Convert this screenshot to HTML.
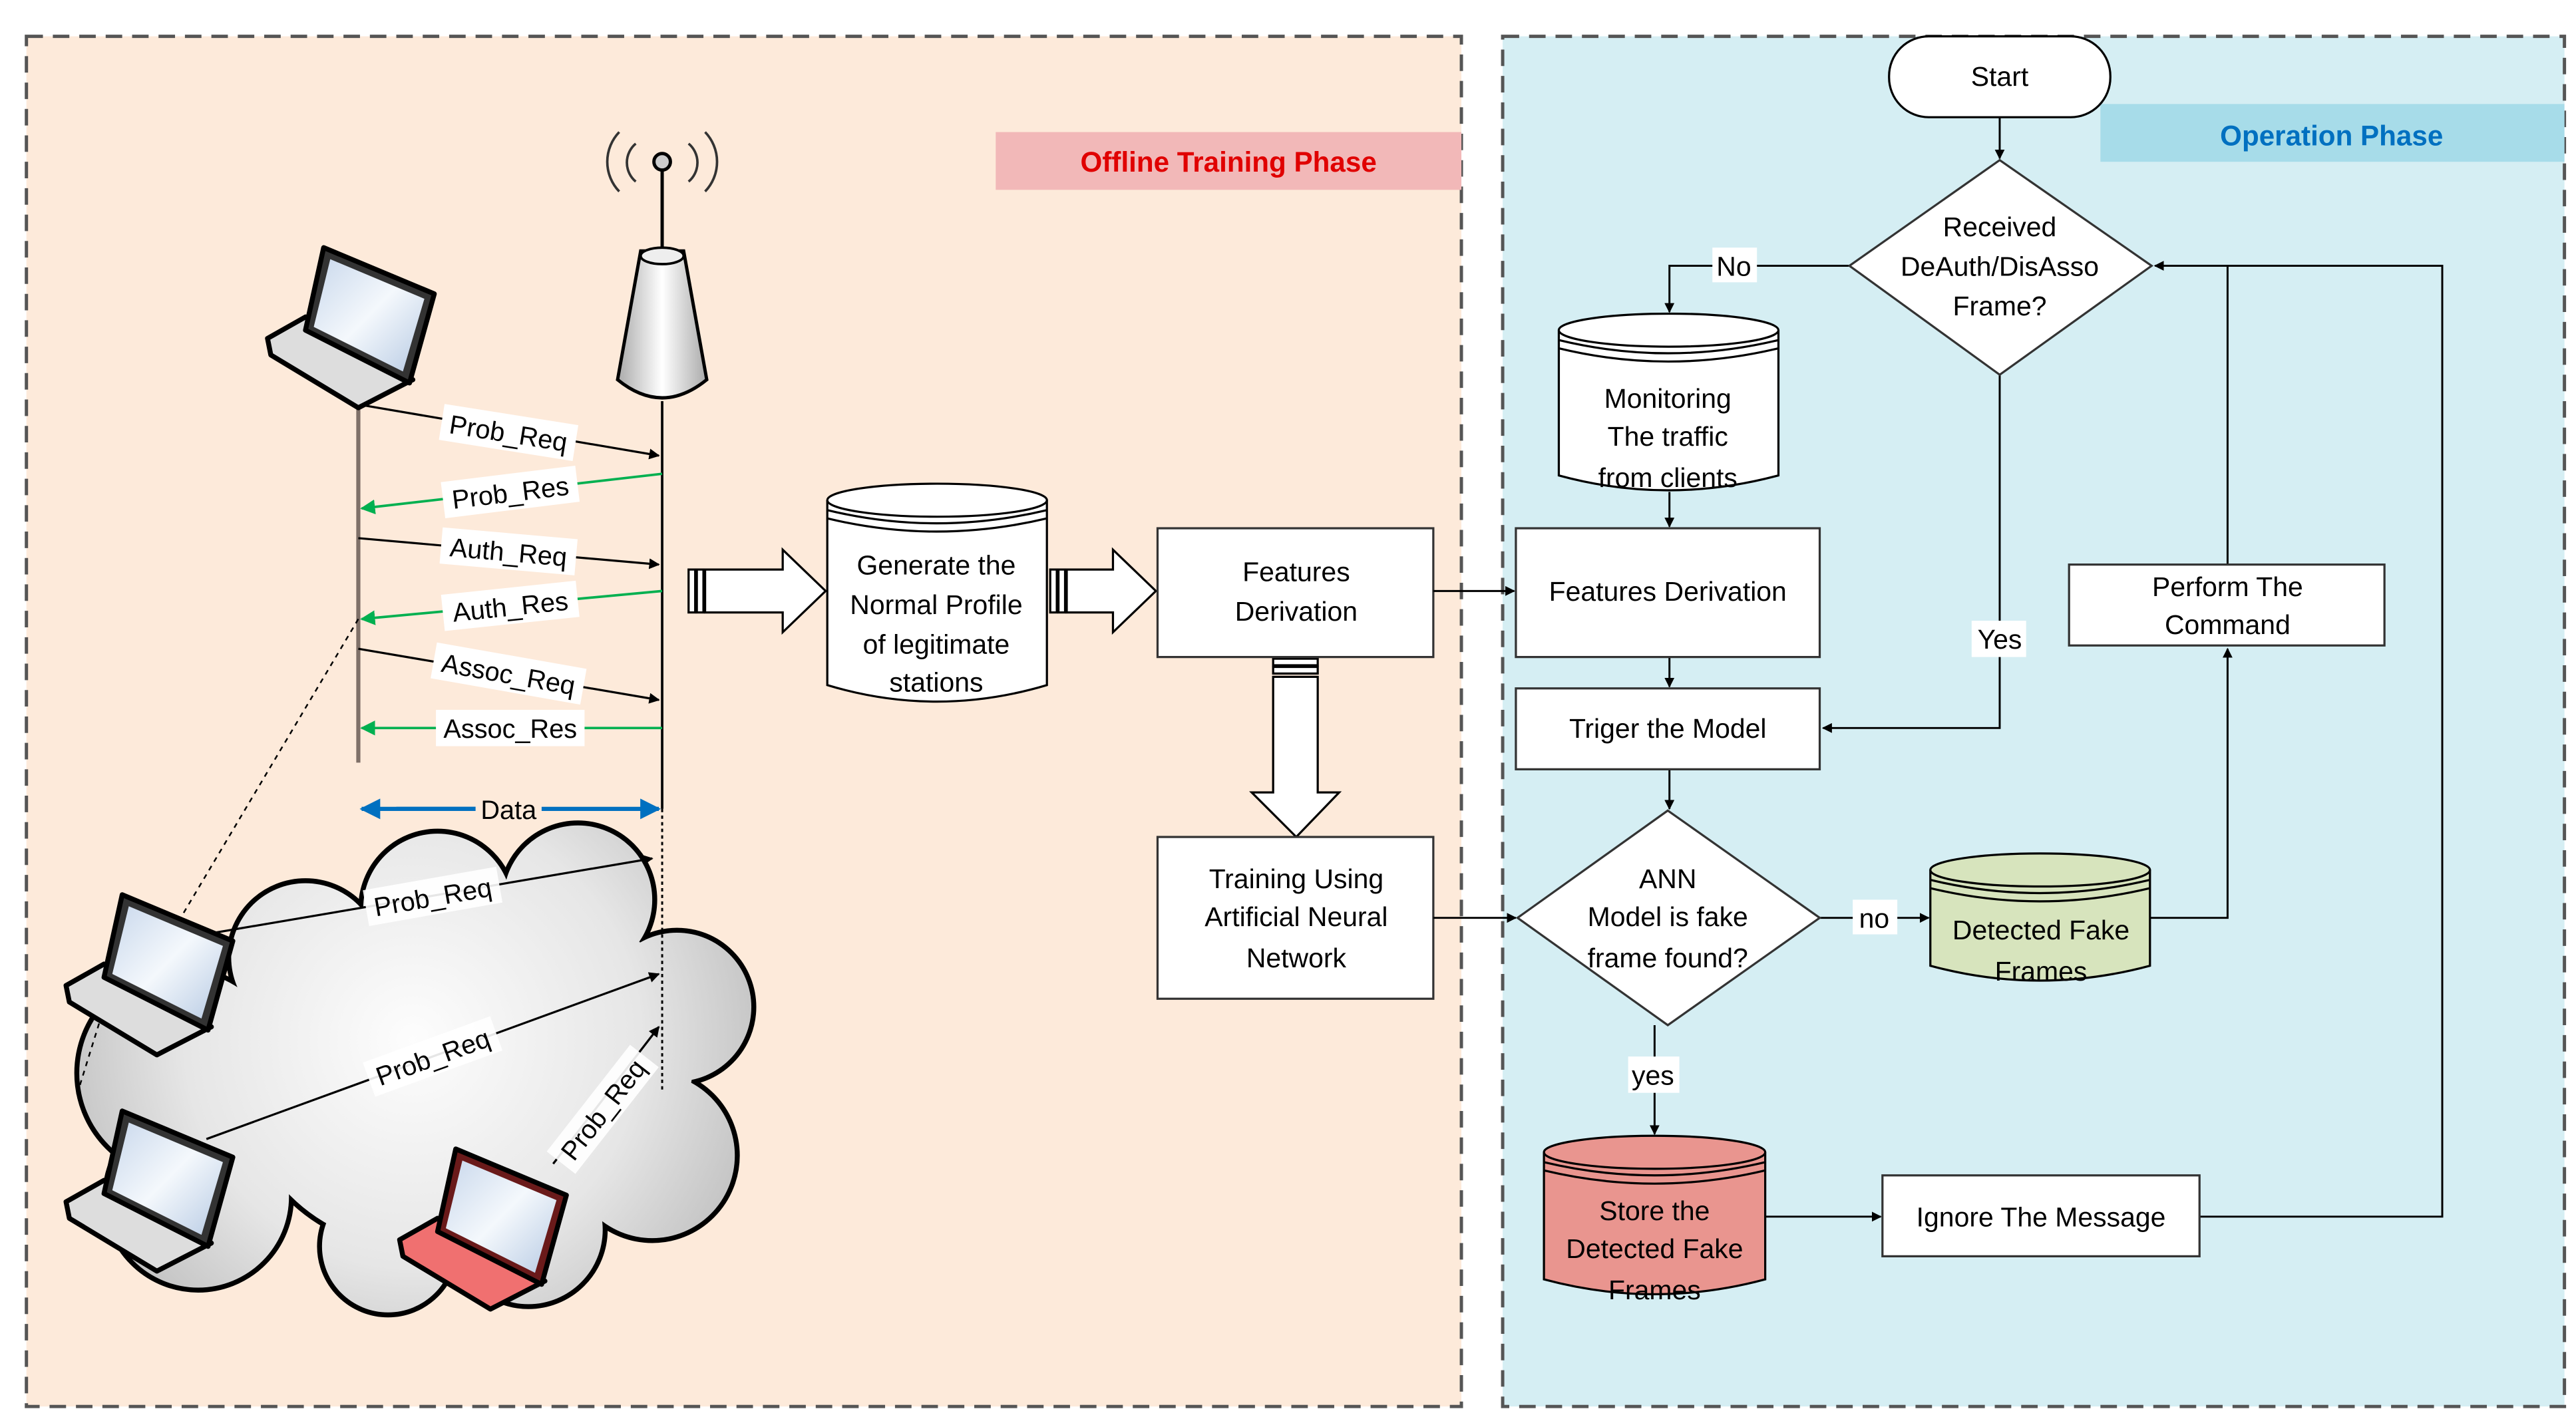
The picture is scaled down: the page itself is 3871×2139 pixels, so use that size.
<!DOCTYPE html>
<html><head><meta charset="utf-8"><style>html,body{margin:0;padding:0;background:#fff}svg{display:block}</style></head>
<body>
<svg width="3871" height="2139" viewBox="0 0 1560 862" preserveAspectRatio="none" xmlns="http://www.w3.org/2000/svg" font-family="Liberation Sans, sans-serif">
<defs>
<marker id="ab" viewBox="0 0 10 10" refX="9" refY="5" markerWidth="5" markerHeight="5" orient="auto"><path d="M0,0L10,5L0,10z" fill="#000"/></marker>
<marker id="ag" viewBox="0 0 10 10" refX="9" refY="5" markerWidth="6" markerHeight="6" orient="auto"><path d="M0,0L10,5L0,10z" fill="#00b050"/></marker>
<marker id="al" viewBox="0 0 10 10" refX="9" refY="5" markerWidth="5" markerHeight="5" orient="auto"><path d="M0,0L10,5L0,10z" fill="#0070c0"/></marker>
<radialGradient id="cg" gradientUnits="userSpaceOnUse" cx="250" cy="630" r="230"><stop offset="0" stop-color="#fdfdfd"/><stop offset="0.6" stop-color="#e6e6e6"/><stop offset="1" stop-color="#bdbdbd"/></radialGradient>
<linearGradient id="sg" x1="0" y1="0" x2="1" y2="1"><stop offset="0" stop-color="#c9d8ec"/><stop offset="0.5" stop-color="#f4f8fc"/><stop offset="1" stop-color="#b8cbe4"/></linearGradient>
<linearGradient id="tg" x1="0" x2="1"><stop offset="0" stop-color="#aaa"/><stop offset="0.5" stop-color="#fff"/><stop offset="1" stop-color="#aaa"/></linearGradient>
<g id="lap">
<polygon points="0,55 23,42 88,80 55,97 2,65" fill="#ddd" stroke="#000" stroke-width="3" stroke-linejoin="round"/>
<polygon points="34,0 101,28 86,82 23,50" fill="#333" stroke="#000" stroke-width="3" stroke-linejoin="round"/>
<polygon points="38,7 95,31 82,75 28,48" fill="url(#sg)"/>
</g>
<g id="lapr">
<polygon points="0,55 23,42 88,80 55,97 2,65" fill="#f07070" stroke="#000" stroke-width="3" stroke-linejoin="round"/>
<polygon points="34,0 101,28 86,82 23,50" fill="#6a1a1a" stroke="#000" stroke-width="3" stroke-linejoin="round"/>
<polygon points="38,7 95,31 82,75 28,48" fill="url(#sg)"/>
</g>
</defs>
<rect width="1560" height="862" fill="#fff"/>
<rect x="16" y="22" width="869" height="830" fill="#fdeada" stroke="#555" stroke-width="2" stroke-dasharray="10,6"/>
<rect x="910" y="22" width="643" height="830" fill="#d5eef3" stroke="#555" stroke-width="2" stroke-dasharray="10,6"/>
<rect x="603" y="80" width="282" height="35" fill="#f2b8b8"/>
<text x="744" y="104" font-size="17" font-weight="bold" fill="#e00000" text-anchor="middle">Offline Training Phase</text>
<rect x="1272" y="63" width="281" height="35" fill="#a7dce9"/>
<text x="1412" y="88" font-size="17" font-weight="bold" fill="#0070c0" text-anchor="middle">Operation Phase</text>

<!-- cloud -->
<g stroke="#000" stroke-width="6" fill="#000">
<circle cx="110" cy="650" r="62"/><circle cx="185" cy="580" r="45"/><circle cx="265" cy="550" r="45"/><circle cx="350" cy="545" r="45"/><circle cx="410" cy="610" r="45"/><circle cx="395" cy="700" r="50"/><circle cx="320" cy="745" r="45"/><circle cx="235" cy="755" r="40"/><circle cx="120" cy="725" r="55"/><circle cx="250" cy="650" r="105"/><circle cx="330" cy="640" r="90"/>
</g>
<g fill="url(#cg)">
<circle cx="110" cy="650" r="62"/><circle cx="185" cy="580" r="45"/><circle cx="265" cy="550" r="45"/><circle cx="350" cy="545" r="45"/><circle cx="410" cy="610" r="45"/><circle cx="395" cy="700" r="50"/><circle cx="320" cy="745" r="45"/><circle cx="235" cy="755" r="40"/><circle cx="120" cy="725" r="55"/><circle cx="250" cy="650" r="105"/><circle cx="330" cy="640" r="90"/>
</g>

<!-- antenna -->
<path d="M375,80 A26,26 0 0 0 375,116 M385,87 A15,15 0 0 0 385,110 M427,80 A26,26 0 0 1 427,116 M417,87 A15,15 0 0 1 417,110" fill="none" stroke="#333" stroke-width="1.5"/>
<line x1="401" y1="100" x2="401" y2="155" stroke="#000" stroke-width="2"/>
<circle cx="401" cy="98" r="5" fill="#ccc" stroke="#000" stroke-width="2"/>
<path d="M388,152 L414,152 L428,230 Q401,252 374,230 Z" fill="url(#tg)" stroke="#000" stroke-width="2"/>
<ellipse cx="401" cy="155" rx="13" ry="5" fill="#eee" stroke="#000" stroke-width="1.5"/>

<line x1="217" y1="245" x2="217" y2="462" stroke="#7f7068" stroke-width="2.5"/>
<line x1="401" y1="243" x2="401" y2="490" stroke="#000" stroke-width="1.5"/>
<line x1="401" y1="490" x2="401" y2="660" stroke="#000" stroke-width="1.2" stroke-dasharray="2,2"/>
<line x1="217" y1="375" x2="110" y2="555" stroke="#000" stroke-width="1" stroke-dasharray="3,3"/>
<line x1="60" y1="620" x2="46" y2="665" stroke="#000" stroke-width="1" stroke-dasharray="3,3"/>

<g font-size="16">
<line x1="217" y1="245" x2="399" y2="276" stroke="#000" stroke-width="1.3" marker-end="url(#ab)"/>
<g transform="translate(308,262) rotate(9)"><rect x="-41" y="-11" width="82" height="22" fill="#fff"/><text y="6" text-anchor="middle">Prob_Req</text></g>
<line x1="401" y1="287" x2="219" y2="308" stroke="#00b050" stroke-width="1.5" marker-end="url(#ag)"/>
<g transform="translate(309,298) rotate(-7)"><rect x="-41" y="-11" width="82" height="22" fill="#fff"/><text y="6" text-anchor="middle">Prob_Res</text></g>
<line x1="217" y1="326" x2="399" y2="342" stroke="#000" stroke-width="1.3" marker-end="url(#ab)"/>
<g transform="translate(308,334) rotate(5)"><rect x="-41" y="-11" width="82" height="22" fill="#fff"/><text y="6" text-anchor="middle">Auth_Req</text></g>
<line x1="401" y1="358" x2="219" y2="375" stroke="#00b050" stroke-width="1.5" marker-end="url(#ag)"/>
<g transform="translate(309,367) rotate(-6)"><rect x="-41" y="-11" width="82" height="22" fill="#fff"/><text y="6" text-anchor="middle">Auth_Res</text></g>
<line x1="217" y1="393" x2="399" y2="424" stroke="#000" stroke-width="1.3" marker-end="url(#ab)"/>
<g transform="translate(308,408) rotate(10)"><rect x="-46" y="-11" width="92" height="22" fill="#fff"/><text y="6" text-anchor="middle">Assoc_Req</text></g>
<line x1="401" y1="441" x2="219" y2="441" stroke="#00b050" stroke-width="1.5" marker-end="url(#ag)"/>
<rect x="264" y="430" width="90" height="22" fill="#fff"/><text x="309" y="447" text-anchor="middle">Assoc_Res</text>
<line x1="240" y1="490" x2="399" y2="490" stroke="#0070c0" stroke-width="2.5" marker-end="url(#al)"/>
<line x1="300" y1="490" x2="219" y2="490" stroke="#0070c0" stroke-width="2.5" marker-end="url(#al)"/>
<rect x="288" y="480" width="40" height="20" fill="#fdeada"/><text x="308" y="496" text-anchor="middle">Data</text>
<line x1="130" y1="565" x2="395" y2="520" stroke="#000" stroke-width="1.3" marker-end="url(#ab)"/>
<g transform="translate(262,543) rotate(-10)"><rect x="-41" y="-11" width="82" height="22" fill="#fff" opacity="0.9"/><text y="6" text-anchor="middle">Prob_Req</text></g>
<line x1="125" y1="690" x2="399" y2="590" stroke="#000" stroke-width="1.3" marker-end="url(#ab)"/>
<g transform="translate(262,640) rotate(-20)"><rect x="-41" y="-11" width="82" height="22" fill="#fff" opacity="0.9"/><text y="6" text-anchor="middle">Prob_Req</text></g>
<line x1="335" y1="705" x2="399" y2="622" stroke="#000" stroke-width="1.3" marker-end="url(#ab)"/>
<g transform="translate(365,672) rotate(-52)"><rect x="-41" y="-11" width="82" height="22" fill="#fff" opacity="0.9"/><text y="6" text-anchor="middle">Prob_Req</text></g>
</g>

<use href="#lap" transform="translate(162,150)"/>
<use href="#lap" transform="translate(40,542)"/>
<use href="#lap" transform="translate(40,673)"/>
<use href="#lapr" transform="translate(242,696)"/>

<g fill="#fff" stroke="#000" stroke-width="1.3">
<path d="M427,345 L474,345 L474,333 L500,358 L474,383 L474,371 L427,371 Z"/>
<rect x="417" y="345" width="4" height="26"/><rect x="422" y="345" width="4" height="26"/>
<path d="M646,345 L674,345 L674,333 L700,358 L674,383 L674,371 L646,371 Z"/>
<rect x="636" y="345" width="4" height="26"/><rect x="641" y="345" width="4" height="26"/>
<path d="M771,410 L771,480 L758,480 L785,507 L811,480 L798,480 L798,410 Z"/>
<rect x="771" y="399" width="27" height="4"/><rect x="771" y="404" width="27" height="4"/>
</g>

<g stroke="#000" stroke-width="1.3">
<path d="M501,303 L501,415 Q567,435 634,415 L634,303" fill="#fff"/>
<ellipse cx="567.5" cy="303" rx="66.5" ry="10" fill="#fff"/>
<path d="M501,309 Q567,325 634,309 M501,314 Q567,330 634,314" fill="none"/>
</g>
<g font-size="16.5" text-anchor="middle">
<text x="567" y="348">Generate the</text><text x="567" y="372">Normal Profile</text><text x="567" y="396">of legitimate</text><text x="567" y="419">stations</text>
</g>

<rect x="701" y="320" width="167" height="78" fill="#fff" stroke="#333" stroke-width="1.3"/>
<text x="785" y="352" font-size="16.5" text-anchor="middle">Features</text><text x="785" y="376" font-size="16.5" text-anchor="middle">Derivation</text>
<rect x="701" y="507" width="167" height="98" fill="#fff" stroke="#333" stroke-width="1.3"/>
<g font-size="16.5" text-anchor="middle"><text x="785" y="538">Training Using</text><text x="785" y="561">Artificial Neural</text><text x="785" y="586">Network</text></g>
<line x1="868" y1="358" x2="917" y2="358" stroke="#000" stroke-width="1.2" marker-end="url(#ab)"/>
<line x1="868" y1="556" x2="918" y2="556" stroke="#000" stroke-width="1.2" marker-end="url(#ab)"/>

<g stroke="#000" stroke-width="1.2" fill="none">
<line x1="1211" y1="71" x2="1211" y2="96" marker-end="url(#ab)"/>
<polyline points="1120,161 1011,161 1011,189" marker-end="url(#ab)"/>
<line x1="1011" y1="298" x2="1011" y2="319" marker-end="url(#ab)"/>
<line x1="1011" y1="398" x2="1011" y2="416" marker-end="url(#ab)"/>
<line x1="1011" y1="466" x2="1011" y2="490" marker-end="url(#ab)"/>
<polyline points="1211,227 1211,441 1104,441" marker-end="url(#ab)"/>
<line x1="1102" y1="556" x2="1168" y2="556" marker-end="url(#ab)"/>
<polyline points="1302,556 1349,556 1349,393" marker-end="url(#ab)"/>
<polyline points="1349,342 1349,161"/>
<polyline points="1332,737 1479,737 1479,161 1305,161" marker-end="url(#ab)"/>
<line x1="1002" y1="621" x2="1002" y2="687" marker-end="url(#ab)"/>
<line x1="1069" y1="737" x2="1139" y2="737" marker-end="url(#ab)"/>
</g>
<rect x="1144" y="22" width="134" height="49" rx="24" fill="#fff" stroke="#000" stroke-width="1.3"/>
<text x="1211" y="52" font-size="16.5" text-anchor="middle">Start</text>
<polygon points="1211,97 1303,161 1211,227 1120,161" fill="#fff" stroke="#333" stroke-width="1.3"/>
<g font-size="16.5" text-anchor="middle"><text x="1211" y="143">Received</text><text x="1211" y="167">DeAuth/DisAsso</text><text x="1211" y="191">Frame?</text></g>
<rect x="1037" y="150" width="27" height="21" fill="#fff"/><text x="1050" y="167" font-size="16.5" text-anchor="middle">No</text>
<rect x="1194" y="376" width="33" height="22" fill="#fff"/><text x="1211" y="393" font-size="16.5" text-anchor="middle">Yes</text>

<g stroke="#000" stroke-width="1.3">
<path d="M944,200 L944,288 Q1010,306 1077,288 L1077,200" fill="#fff"/>
<ellipse cx="1010.5" cy="200" rx="66.5" ry="10" fill="#fff"/>
<path d="M944,206 Q1010,222 1077,206 M944,211 Q1010,227 1077,211" fill="none"/>
</g>
<g font-size="16.5" text-anchor="middle"><text x="1010" y="247">Monitoring</text><text x="1010" y="270">The traffic</text><text x="1010" y="295">from clients</text></g>

<rect x="918" y="320" width="184" height="78" fill="#fff" stroke="#333" stroke-width="1.3"/>
<text x="1010" y="364" font-size="16.5" text-anchor="middle">Features Derivation</text>
<rect x="918" y="417" width="184" height="49" fill="#fff" stroke="#333" stroke-width="1.3"/>
<text x="1010" y="447" font-size="16.5" text-anchor="middle">Triger the Model</text>
<polygon points="1010,491 1102,556 1010,621 919,556" fill="#fff" stroke="#333" stroke-width="1.3"/>
<g font-size="16.5" text-anchor="middle"><text x="1010" y="538">ANN</text><text x="1010" y="561">Model is fake</text><text x="1010" y="586">frame found?</text></g>
<rect x="1122" y="545" width="27" height="21" fill="#fff"/><text x="1135" y="562" font-size="16.5" text-anchor="middle">no</text>
<rect x="986" y="640" width="31" height="22" fill="#fff"/><text x="1001" y="657" font-size="16.5" text-anchor="middle">yes</text>

<g stroke="#000" stroke-width="1.3">
<path d="M1169,527 L1169,585 Q1235,603 1302,585 L1302,527" fill="#d7e4bd"/>
<ellipse cx="1235.5" cy="527" rx="66.5" ry="10" fill="#d7e4bd"/>
<path d="M1169,533 Q1235,549 1302,533 M1169,538 Q1235,554 1302,538" fill="none"/>
</g>
<g font-size="16.5" text-anchor="middle"><text x="1236" y="569">Detected Fake</text><text x="1236" y="594">Frames</text></g>

<rect x="1253" y="342" width="191" height="49" fill="#fff" stroke="#333" stroke-width="1.3"/>
<g font-size="16.5" text-anchor="middle"><text x="1349" y="361">Perform The</text><text x="1349" y="384">Command</text></g>

<g stroke="#000" stroke-width="1.3">
<path d="M935,698 L935,775 Q1002,793 1069,775 L1069,698" fill="#e9958f"/>
<ellipse cx="1002" cy="698" rx="67" ry="10" fill="#e9958f"/>
<path d="M935,704 Q1002,720 1069,704 M935,709 Q1002,725 1069,709" fill="none"/>
</g>
<g font-size="16.5" text-anchor="middle"><text x="1002" y="739">Store the</text><text x="1002" y="762">Detected Fake</text><text x="1002" y="787">Frames</text></g>

<rect x="1140" y="712" width="192" height="49" fill="#fff" stroke="#333" stroke-width="1.3"/>
<text x="1236" y="743" font-size="16.5" text-anchor="middle">Ignore The Message</text>
</svg>
</body></html>
